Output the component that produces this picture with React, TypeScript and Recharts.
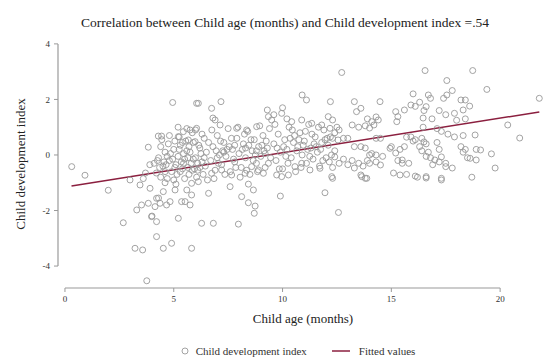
import { ComposedChart, Scatter, Line, XAxis, YAxis, ReferenceLine } from 'recharts';

const ageTicks = [0, 5, 10, 15, 20];
const indexTicks = [-4, -2, 0, 2, 4];

// [age in months, development index]
const underFour = [
  [0.31, -0.42], [0.92, -0.73], [1.99, -1.27], [2.68, -2.44], [2.99, -0.9], [3.22, -3.36],
  [3.3, -1.98], [3.45, -1.08], [3.52, -1.8], [3.57, -3.42], [3.76, -4.53], [3.83, -1.74],
  [3.83, 0.28], [3.91, -1.2], [3.98, -2.22], [3.7, -0.65], [3.9, -0.35], [3.6, -0.85],
];

const fourToSeven = [
  [4.21, -1.56], [4.37, -1.74], [4.14, -1.86], [4.21, -2.4], [4.0, -2.2], [4.21, -2.94],
  [4.52, -3.36], [4.9, -3.18], [4.52, -1.32], [4.67, -1.8], [4.83, -1.68], [5.06, -1.26],
  [5.21, -2.28], [5.36, -1.68], [5.52, -1.68], [5.6, -1.26], [5.75, -1.8], [5.82, -1.44],
  [5.82, -1.02], [5.82, -3.36], [4.3, -1.55], [4.95, 1.89], [4.29, 0.68], [4.44, 0.68],
  [5.21, 0.66], [5.44, 0.84], [5.75, 0.9], [6.05, 0.96], [5.67, 0.54], [5.98, 0.48],
  [6.05, 1.86], [6.13, 1.86], [6.6, -1.38], [6.28, -2.46], [6.13, -0.96], [4.6, -1.0], [5.1, -1.05],
  [4.1, -0.3], [4.3, -0.1], [4.5, -0.4], [4.6, 0.1], [4.8, -0.2], [4.9, -0.6], [5.0, 0.2],
  [5.1, -0.35], [5.2, -0.05], [5.3, 0.35], [5.4, -0.5], [5.5, -0.15], [5.6, 0.15], [5.7, -0.7],
  [5.8, -0.3], [5.9, 0.45], [6.0, -0.1], [6.1, -0.55], [6.2, 0.25], [6.3, -0.25], [6.4, 0.6],
  [4.2, -0.65], [4.4, 0.3], [4.7, -0.85], [5.0, -0.9], [5.25, 0.65], [5.45, 0.05], [5.65, -0.45],
  [5.85, 0.8], [6.05, -0.8], [6.25, 0.05], [6.45, -0.4], [4.35, -0.45], [4.55, -0.25], [4.75, 0.4],
  [4.95, -0.15], [5.15, -0.7], [5.35, -0.25], [5.55, 0.5], [5.75, 0.1], [5.95, -0.5], [6.15, 0.35],
  [6.35, -0.7], [4.6, -0.6], [5.05, 0.5], [5.5, -0.85], [5.9, -0.15], [6.3, 0.75], [4.8, 0.7],
  [5.2, 1.0], [5.6, 0.95], [6.0, 0.9], [4.45, 0.55], [6.5, 0.1], [6.55, -0.9], [6.6, 0.45],
  [4.25, -0.2], [4.65, -0.35], [4.85, 0.05], [5.05, -0.45], [5.3, -0.6], [5.45, -0.3],
  [5.65, -0.1], [5.85, -0.55], [6.1, -0.3], [6.4, -0.1], [4.7, -0.05], [5.25, 0.2],
  [5.7, 0.3], [6.2, -0.45], [4.4, -0.8], [5.4, 0.45],
];

const sevenToTen = [
  [6.74, 1.68], [7.17, 1.92], [6.9, 1.26], [7.13, 1.08], [7.89, 0.96], [8.35, 0.9], [8.81, 1.02],
  [9.35, 1.38], [9.96, 1.5], [9.5, 1.26], [6.8, 1.33], [9.3, 1.62], [9.6, 1.45], [10.0, 1.7],
  [6.82, -2.46], [7.97, -2.49], [8.12, -1.5], [8.43, -1.72], [8.74, -1.84], [8.7, -2.1],
  [9.9, -1.48], [7.59, -1.14], [8.43, -1.05], [8.66, -1.26], [6.74, -0.66], [7.2, -0.54],
  [7.66, -0.72], [8.28, -0.66], [8.58, -0.42], [8.89, -0.54], [9.12, -0.66], [9.73, -0.72], [9.96, -0.78],
  [6.7, -0.2], [6.8, 0.3], [6.9, -0.55], [7.0, 0.7], [7.1, 0.0], [7.2, -0.35], [7.3, 0.45],
  [7.4, -0.05], [7.5, 0.95], [7.6, -0.6], [7.7, 0.2], [7.8, -0.25], [7.9, 0.6], [8.0, 0.05],
  [8.1, -0.45], [8.2, 0.4], [8.3, -0.1], [8.4, 0.85], [8.5, -0.7], [8.6, 0.15], [8.7, 0.55],
  [8.8, -0.3], [8.9, 0.3], [9.0, -0.05], [9.1, 0.7], [9.2, -0.45], [9.3, 0.25], [9.4, 0.95],
  [6.75, 0.9], [6.95, 0.15], [7.15, 0.5], [7.35, -0.7], [7.55, 0.3], [7.75, -0.15], [7.95, 1.0],
  [8.15, 0.2], [8.35, -0.55], [8.55, 0.55], [8.75, 0.0], [8.95, 1.05], [9.15, 0.15], [9.35, -0.3],
  [6.85, -0.85], [7.25, 0.15], [7.65, 0.6], [8.05, -0.8], [8.45, 0.35], [8.85, -0.6], [9.25, 0.5],
  [7.05, -0.3], [7.45, 0.2], [7.85, -0.45], [8.25, 0.75], [8.65, -0.2], [9.05, 0.35], [9.45, -0.1],
  [7.3, 0.1], [7.8, 0.35], [8.3, 0.25], [8.8, 0.15], [9.2, 0.05], [7.0, -0.1],
];

const tenToThirteen = [
  [10.42, 1.2], [10.88, 1.26], [11.34, 1.14], [11.8, 1.08], [12.1, 1.38], [12.18, 0.96],
  [10.9, 2.16], [11.1, 1.98], [12.2, 1.92], [12.72, 2.97], [10.2, 1.3],
  [10.27, -0.72], [10.57, -0.42], [10.88, -0.3], [11.26, -0.54], [11.72, -0.48], [12.26, -0.78],
  [11.95, -1.36], [12.57, -2.07], [12.3, -0.84],
  [9.6, 0.4], [9.7, -0.2], [9.8, 0.75], [9.9, 0.1], [10.0, -0.5], [10.1, 0.55], [10.2, 0.2],
  [10.3, 1.0], [10.4, -0.1], [10.5, 0.45], [10.6, -0.6], [10.7, 0.3], [10.8, 0.8], [10.9, 0.0],
  [11.0, 0.5], [11.1, -0.3], [11.2, 1.1], [11.3, 0.25], [11.4, -0.15], [11.5, 0.65], [11.6, 0.1],
  [11.7, -0.4], [11.8, 0.45], [11.9, 0.9], [12.0, -0.1], [12.1, 0.35], [12.2, 0.65], [12.3, -0.45],
  [12.4, 0.15], [9.65, 1.1], [9.85, -0.5], [10.05, 0.3], [10.25, -0.3], [10.45, 0.9], [10.65, 0.15],
  [10.85, -0.45], [11.05, 0.85], [11.25, -0.05], [11.45, 0.4], [11.65, 1.0], [11.85, -0.2],
  [12.05, 0.6], [12.25, 0.0], [9.75, 0.25], [10.15, -0.05], [10.55, 0.7], [10.95, 0.35],
  [11.35, 0.75], [11.75, 0.2], [12.15, -0.25],
  [12.3, 1.26], [12.5, 1.0], [12.4, 0.8], [12.6, 0.9], [12.3, 0.6], [12.55, 0.54],
  [12.8, 0.6], [12.4, -0.07], [12.8, -0.15], [12.6, -0.3],
  [10.35, 0.6], [10.75, 0.55], [11.15, 0.2], [11.55, 0.3], [11.95, 0.55],
];

const thirteenUp = [
  [16.55, 3.04], [18.74, 3.04], [17.55, 2.68], [19.39, 2.36], [21.8, 2.04], [14.48, 1.92],
  [17.8, 2.32], [16.0, 2.2], [16.3, 1.9], [16.1, 1.75], [16.5, 1.6], [15.6, 1.62], [15.9, 1.8],
  [17.4, 2.04], [17.55, 2.16], [18.2, 1.98], [18.4, 1.98], [18.6, 1.76], [17.2, 1.6], [17.5, 1.45],
  [17.9, 1.5], [18.3, 1.62], [18.4, 1.3], [18.0, 1.25], [15.2, 1.56], [15.3, 1.38], [15.25, 1.2],
  [13.9, 1.3], [14.1, 1.2], [14.3, 1.37], [14.2, 1.08], [16.46, 1.33], [16.87, 1.3], [16.46, 1.0],
  [20.35, 1.08], [13.3, 1.92], [13.4, 1.56], [13.6, 1.68], [14.4, 1.26], [16.7, 2.16], [16.8, 2.04],
  [16.6, 1.74],
  [17.1, 0.95], [17.3, 0.85], [17.6, 0.75], [17.9, 0.65], [18.3, 0.7], [18.85, 0.72], [15.9, 0.65],
  [16.1, 0.55], [16.4, 0.6], [16.5, 0.47], [15.0, 0.3], [15.4, 0.2], [15.6, 0.3], [16.3, 0.3],
  [16.4, 0.15], [16.7, 0.1], [16.6, -0.05], [17.2, 0.2], [17.3, -0.07], [18.2, 0.3], [18.4, 0.2],
  [18.3, 0.1], [18.9, 0.2], [19.1, 0.18], [19.6, 0.04], [13.8, 0.25], [14.0, 0.0], [14.1, 0.05],
  [14.3, 0.0], [13.9, -0.2], [14.0, -0.3], [14.3, -0.25], [18.5, -0.1], [18.9, -0.18], [18.62, -0.12],
  [15.5, -0.18], [15.8, -0.3], [16.9, -0.35], [17.2, -0.25], [17.5, -0.3], [17.8, -0.47], [15.1, -0.65],
  [15.4, -0.72], [15.7, -0.7], [16.2, -0.8], [16.6, -0.78], [17.3, -0.9], [18.7, -0.8], [13.64, -0.78],
  [13.87, -0.84], [17.5, -0.42], [17.3, -0.84], [13.2, 1.08], [13.5, 1.0], [13.8, 1.05], [14.0, 0.97],
  [13.0, 0.6], [13.3, 0.3], [13.6, 0.3], [14.3, 0.6], [14.5, 0.6], [14.94, 0.24], [15.7, 0.64],
  [16.0, 0.5], [16.6, 0.4], [17.1, 0.45], [13.0, -0.35], [13.2, -0.2], [13.3, -0.47], [13.5, -0.3],
  [13.7, -0.4], [14.6, -0.05], [14.5, -0.36], [15.2, 0.07], [15.3, -0.2], [15.5, -0.3], [16.8, -0.1],
  [17.0, -0.18], [16.1, -0.76], [16.6, -0.83], [13.6, -0.72], [13.8, -0.84], [20.9, 0.61], [19.77, -0.47],
];

// fitted regression line, end points
const fitAge = [0.3, 21.8];
const fitIndex = [-1.12, 1.55];

const points = [...underFour, ...fourToSeven, ...sevenToTen, ...tenToThirteen, ...thirteenUp].map(
  ([x, y]) => ({ x, y }),
);
const fit = fitAge.map((x, i) => ({ x, y: fitIndex[i] }));

const serif = '"Liberation Serif", "DejaVu Serif", serif';
const axisColor = '#9a9a9a';
const dotColor = '#999';

function HollowDot(props: any) {
  return <circle cx={props.cx} cy={props.cy} r={3} fill="none" stroke={dotColor} strokeWidth={0.9} />;
}

export default function App() {
  return (
    <div style={{ position: 'absolute', left: 0, top: 0, width: 555, height: 360, background: '#fff', fontFamily: serif }}>
      <div style={{ position: 'absolute', top: 15, left: 0, width: 570, textAlign: 'center', fontSize: 13.5, color: '#222' }}>
        Correlation between Child age (months) and Child development index =.54
      </div>
      <ComposedChart width={555} height={360} margin={{ top: 40, right: 7, left: 8, bottom: 32 }}>
        <XAxis
          type="number"
          dataKey="x"
          domain={[-0.32, 22.2]}
          ticks={ageTicks}
          allowDataOverflow
          axisLine={false}
          tickLine={{ stroke: axisColor }}
          tickSize={4}
          tickMargin={4}
          height={40}
          tick={{ fontSize: 9, fill: '#333', fontFamily: serif }}
          label={{ value: 'Child age (months)', position: 'insideBottom', offset: 5, style: { fontSize: 13, fill: '#222', fontFamily: serif } }}
        />
        <YAxis
          type="number"
          domain={[-4.79, 4.14]}
          ticks={indexTicks}
          allowDataOverflow
          axisLine={false}
          tickLine={{ stroke: axisColor }}
          tickSize={4}
          tickMargin={4}
          width={50}
          tick={{ fontSize: 9, fill: '#333', fontFamily: serif }}
          label={{
            value: 'Child development index',
            angle: -90,
            position: 'insideLeft',
            offset: 12,
            style: { textAnchor: 'middle', fontSize: 13, fill: '#222', fontFamily: serif },
          }}
        />
        <ReferenceLine segment={[{ x: -0.32, y: -4 }, { x: -0.32, y: 4 }]} stroke={axisColor} strokeWidth={1.2} ifOverflow="visible" />
        <ReferenceLine segment={[{ x: 0, y: -4.79 }, { x: 20, y: -4.79 }]} stroke={axisColor} strokeWidth={1.2} ifOverflow="visible" />
        <Scatter data={points} dataKey="y" shape={HollowDot} isAnimationActive={false} />
        <Line data={fit} dataKey="y" stroke="#8b1f3f" strokeWidth={1.5} dot={false} isAnimationActive={false} />
      </ComposedChart>
      <div style={{ position: 'absolute', top: 345, left: 20, width: 555, fontSize: 11, color: '#333', display: 'flex', justifyContent: 'center', alignItems: 'center', gap: 6 }}>
        <svg width={10} height={10}>
          <circle cx={5} cy={5} r={3} fill="none" stroke={dotColor} strokeWidth={0.9} />
        </svg>
        <span>Child development index</span>
        <svg width={24} height={10} style={{ marginLeft: 16 }}>
          <line x1={3} y1={5} x2={21} y2={5} stroke="#8b1f3f" strokeWidth={1.5} />
        </svg>
        <span>Fitted values</span>
      </div>
    </div>
  );
}
